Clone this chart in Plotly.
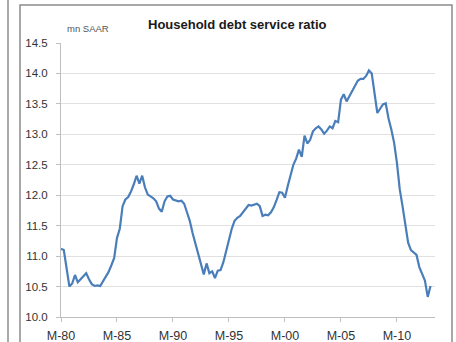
import plotly.graph_objects as go

# Household debt service ratio, quarterly, 1980Q1 - 2013Q1
quarters = list(range(133))
debt_service_ratio = [
    11.12, 11.10, 10.80, 10.50, 10.55, 10.69, 10.57, 10.62, 10.67, 10.72,
    10.62, 10.54, 10.51, 10.52, 10.51, 10.58, 10.65, 10.74, 10.85, 10.97,
    11.30, 11.45, 11.82, 11.93, 11.97, 12.06, 12.18, 12.32, 12.19, 12.32,
    12.13, 12.01, 11.98, 11.95, 11.90, 11.78, 11.73, 11.90, 11.98, 11.99,
    11.93, 11.91, 11.90, 11.91, 11.86, 11.72, 11.58, 11.38, 11.20, 11.02,
    10.85, 10.70, 10.88, 10.72, 10.75, 10.64, 10.76, 10.77, 10.90, 11.08,
    11.30, 11.45, 11.58, 11.63, 11.66, 11.72, 11.78, 11.84, 11.83, 11.84,
    11.86, 11.82, 11.66, 11.68, 11.67, 11.72, 11.80, 11.92, 12.05, 12.04,
    11.96, 12.15, 12.33, 12.50, 12.60, 12.75, 12.63, 12.98, 12.85, 12.91,
    13.05, 13.10, 13.13, 13.08, 13.01, 13.06, 13.13, 13.10, 13.22, 13.20,
    13.57, 13.66, 13.54, 13.62, 13.72, 13.78, 13.88, 13.91, 13.91, 13.96,
    14.05, 14.00, 13.68, 13.35, 13.42, 13.49, 13.51, 13.26, 13.08, 12.86,
    12.53, 12.10, 11.82, 11.55, 11.22, 11.10, 11.06, 11.02, 10.82, 10.72,
    10.60, 10.33, 10.51,
]
x_tick_positions = [0, 20, 40, 60, 80, 100, 120]
x_tick_labels = ["M-80", "M-85", "M-90", "M-95", "M-00", "M-05", "M-10"]
y_tick_values = [10.0, 10.5, 11.0, 11.5, 12.0, 12.5, 13.0, 13.5, 14.0, 14.5]

W, H = 456, 342
ML, MR, MT, MB = 61, 21, 43, 25
PW, PH = W - ML - MR, H - MT - MB


def px_x(p):
    return (p - ML) / PW


def px_y(p):
    return (H - MB - p) / PH


FONT = "Liberation Sans, Arial, sans-serif"

fig = go.Figure()
fig.add_trace(go.Scatter(
    x=quarters, y=debt_service_ratio, mode="lines",
    line=dict(color="#4a7ebb", width=2.2),
    hoverinfo="skip", showlegend=False,
))

fig.update_layout(
    width=W, height=H,
    margin=dict(l=ML, r=MR, t=MT, b=MB),
    paper_bgcolor="white", plot_bgcolor="white",
    xaxis=dict(
        range=[0, 133.6], tickvals=x_tick_positions, ticktext=x_tick_labels,
        showgrid=False, zeroline=False, automargin=False,
        showline=True, linecolor="#bfbfbf", linewidth=1,
        ticks="outside", ticklen=4, tickcolor="#bfbfbf",
        tickfont=dict(family=FONT, size=12.5, color="#333333"),
        ticklabelstandoff=3,
    ),
    yaxis=dict(
        range=[10.0, 14.5], tickvals=y_tick_values, tickformat=".1f",
        showgrid=True, gridcolor="#e0e0e0", gridwidth=1, zeroline=False,
        automargin=False,
        showline=True, linecolor="#bfbfbf", linewidth=1,
        ticks="outside", ticklen=4, tickcolor="#bfbfbf",
        tickfont=dict(family=FONT, size=11.5, color="#333333"),
        ticklabelstandoff=6,
    ),
    shapes=[
        # chart frame
        dict(type="rect", xref="paper", yref="paper",
             x0=px_x(20), x1=px_x(452), y0=px_y(360), y1=px_y(5),
             line=dict(color="#8c8c8c", width=1.5), layer="below"),
        # neighbouring panel edge
        dict(type="line", xref="paper", yref="paper",
             x0=px_x(8), x1=px_x(8), y0=px_y(360), y1=px_y(-10),
             line=dict(color="#8c8c8c", width=1.5)),
    ],
    annotations=[
        dict(text="<b>Household debt service ratio</b>", xref="paper", yref="paper",
             x=px_x(237), y=px_y(25), xanchor="center", yanchor="middle",
             showarrow=False,
             font=dict(family=FONT, size=13, color="#1a1a1a")),
        dict(text="mn SAAR", xref="paper", yref="paper",
             x=px_x(65), y=px_y(28), xanchor="left", yanchor="middle",
             showarrow=False,
             font=dict(family=FONT, size=9.5, color="#555555")),
    ],
)

fig.write_html("out.html")
